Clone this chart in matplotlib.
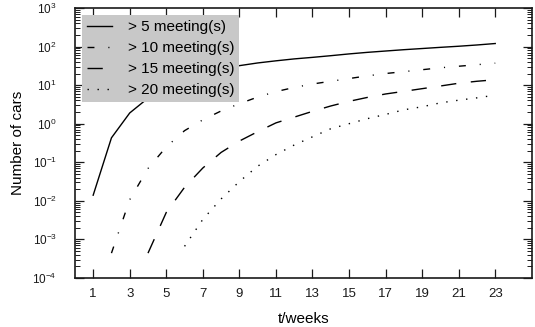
import matplotlib
matplotlib.use('Agg')
import matplotlib.pyplot as plt
from matplotlib.ticker import LogLocator, NullFormatter, FixedLocator

plt.rcParams['font.family'] = ['Liberation Sans', 'DejaVu Sans']
plt.rcParams['mathtext.fontset'] = 'custom'
plt.rcParams['mathtext.rm'] = 'Liberation Sans'

# Data
weeks = list(range(1, 24))
gt5 = [0.014, 0.43, 1.9, 4.6, 8.7, 13.8, 20, 26, 32, 37.6, 42.7, 47.9,
       52.5, 58, 64.5, 70.8, 76.7, 83, 89, 95.5, 102, 110, 120]
weeks10 = list(range(2, 24))
gt10 = [4.4e-4, 0.0107, 0.069, 0.25, 0.66, 1.26, 2.14, 3.3, 4.9, 6.8, 8.7,
        10.7, 12.6, 14.8, 17.4, 20, 22.4, 25.1, 28.2, 30.9, 33.9, 37.2]
weeks15 = list(range(4, 24))
gt15 = [4.4e-4, 0.005, 0.0224, 0.071, 0.18, 0.355, 0.62, 1.05, 1.48, 2.09,
        2.88, 3.8, 4.8, 5.9, 6.9, 8.1, 9.5, 11.2, 12.6, 13.8]
weeks20 = list(range(6, 24))
gt20 = [6.6e-4, 0.0033, 0.0112, 0.0316, 0.079, 0.158, 0.28, 0.457, 0.74,
        1.0, 1.35, 1.74, 2.29, 2.75, 3.47, 4.07, 4.68, 5.5]

labels = ['> 5 meeting(s)', '> 10 meeting(s)', '> 15 meeting(s)', '> 20 meeting(s)']
xticks = list(range(1, 24, 2))

LW = 1.0
INK = '#1a1a1a'

fig = plt.figure(figsize=(5.35, 3.27), dpi=100)
ax = fig.add_axes([0.140, 0.150, 0.854, 0.8255])

ax.plot(weeks, gt5, color='black', lw=LW, linestyle='-', label=labels[0])
ax.plot(weeks10, gt10, color='black', lw=LW, dashes=(5, 10, 0.8, 10), label=labels[1])
ax.plot(weeks15, gt15, color='black', lw=LW, dashes=(11, 10.5), label=labels[2])
ax.plot(weeks20, gt20, color='black', lw=LW, dashes=(1, 6.2), label=labels[3])

ax.set_yscale('log')
ax.set_xlim(0, 25)
ax.set_ylim(1e-4, 1e3)
ax.xaxis.set_major_locator(FixedLocator(xticks))
ax.yaxis.set_major_locator(LogLocator(base=10, numticks=20))
ax.yaxis.set_minor_locator(LogLocator(base=10, subs=range(2, 10), numticks=20))
ax.yaxis.set_minor_formatter(NullFormatter())

for s in ax.spines.values():
    s.set_linewidth(1.2)
    s.set_color(INK)

ax.tick_params(axis='both', which='major', direction='in', length=6.5, width=0.9,
               top=True, right=True, colors=INK)
ax.tick_params(axis='x', which='major', labelsize=9.5, pad=7)
ax.tick_params(axis='y', which='major', labelsize=8.5, pad=13)
ax.tick_params(axis='y', which='minor', direction='in', length=3.5, width=0.7,
               left=True, right=True, colors=INK)
ax.tick_params(axis='x', which='minor', bottom=False, top=False)

ax.set_xlabel('t/weeks', fontsize=11, labelpad=9)
ax.set_ylabel('Number of cars', fontsize=11, labelpad=5)

leg = ax.legend(loc='upper left', bbox_to_anchor=(0.015, 0.974), borderaxespad=0,
                fontsize=11, frameon=True, fancybox=False, framealpha=1,
                handlelength=1.6, handletextpad=1.05, labelspacing=0.45,
                borderpad=0.35)
leg.get_frame().set_facecolor('#c8c8c8')
leg.get_frame().set_edgecolor('none')

fig.savefig('out.png', dpi=100)
